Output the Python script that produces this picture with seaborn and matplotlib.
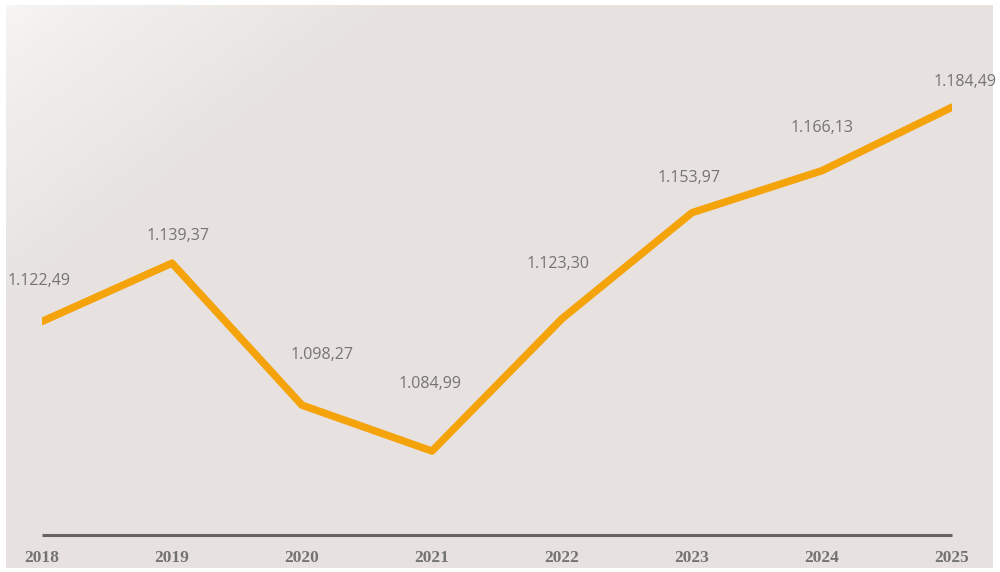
import numpy as np
import pandas as pd
import matplotlib.pyplot as plt
import seaborn as sns

years = [2018, 2019, 2020, 2021, 2022, 2023, 2024, 2025]
values = [1122.49, 1139.37, 1098.27, 1084.99, 1123.30, 1153.97, 1166.13, 1184.49]
labels = ['1.122,49', '1.139,37', '1.098,27', '1.084,99',
          '1.123,30', '1.153,97', '1.166,13', '1.184,49']

# label offsets in pixels (dx, dy)
label_dx = [-3, 6, 20, -2, -4, -3, 0, 13]
label_dy = [40, 27, 50, 67, 55, 35, 43, 25]

df = pd.DataFrame({'year': years, 'value': values})

sns.set_style('white')
fig = plt.figure(figsize=(10, 5.72), dpi=100)
fig.patch.set_facecolor('white')

# background panel with soft gradient in top-left corner
bg = fig.add_axes([0.006, 0.007, 0.987, 0.984])
h, w = 563, 987
yy, xx = np.mgrid[0:h, 0:w]
d = np.clip((xx + yy * 1.3) / 380.0, 0, 1) ** 0.8
c0 = np.array([247, 246, 245]) / 255
c1 = np.array([231, 227, 224]) / 255
img = c0[None, None, :] * (1 - d[..., None]) + c1[None, None, :] * d[..., None]
bg.imshow(img, aspect='auto', interpolation='bilinear')
bg.axis('off')

ax = fig.add_axes([0.042, 0.0647, 0.910, 0.905])
ax.patch.set_alpha(0)
sns.lineplot(data=df, x='year', y='value', ax=ax, color='#f5a30a', linewidth=5.4,
             solid_capstyle='round', solid_joinstyle='round')

ax.set_xlim(2018, 2025)
ax.set_ylim(1060.7, 1210.5)
ax.set_xticks(years)
ax.set_xticklabels([str(y) for y in years], family=['Liberation Serif', 'DejaVu Serif'],
                   fontweight='bold', fontsize=12.5, color='#737373')
ax.tick_params(axis='x', length=0, pad=11)
ax.set_yticks([])
ax.set_xlabel('')
ax.set_ylabel('')
for s in ['top', 'left', 'right']:
    ax.spines[s].set_visible(False)
ax.spines['bottom'].set_color('#676360')
ax.spines['bottom'].set_linewidth(2.2)
ax.spines['bottom'].set_capstyle('butt')

for x, v, t, dx, dy in zip(years, values, labels, label_dx, label_dy):
    ax.annotate(t, (x, v), xytext=(dx * 0.72, dy * 0.72), textcoords='offset points',
                ha='center', va='center', fontsize=11.5, color='#747474',
                family=['Open Sans', 'DejaVu Sans'], annotation_clip=False)

fig.savefig('out.png', dpi=100, facecolor='white')
